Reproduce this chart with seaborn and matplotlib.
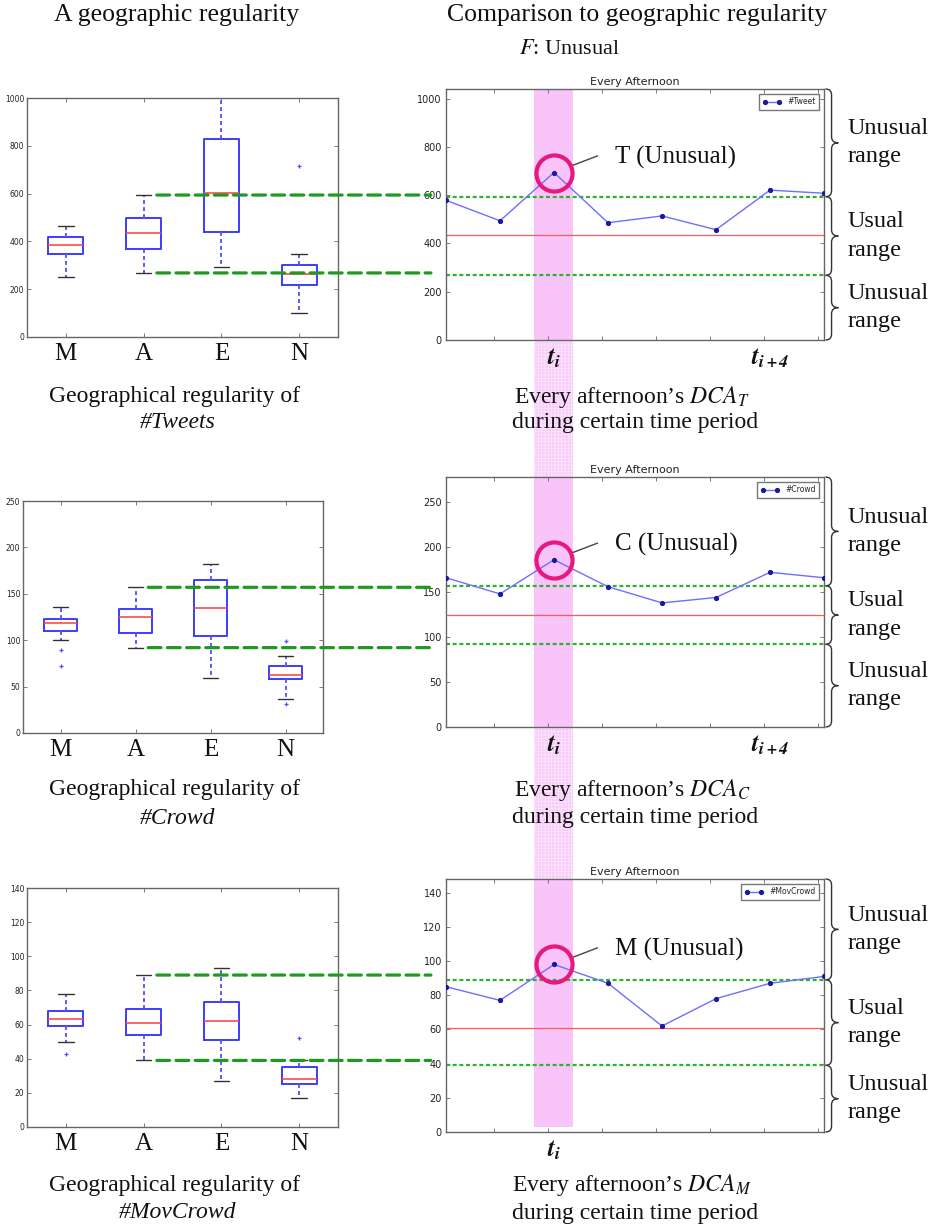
import numpy as np
import matplotlib
matplotlib.use('Agg')
import matplotlib.pyplot as plt
import seaborn as sns
from matplotlib.path import Path
from matplotlib.patches import PathPatch, Rectangle, ConnectionPatch
from matplotlib.transforms import blended_transform_factory as blend

# ---- data ----
regions = ['M', 'A', 'E', 'N']
times = list(range(8))          # eight afternoons, t_i is index 2
peak_idx = 2

# box stats per region: [whisker low, q1, median, q3, whisker high]
tweet_box = [[250, 347, 385, 418, 464], [268, 368, 434, 496, 594],
             [292, 440, 604, 828, 1020], [100, 216, 262, 303, 346]]
tweet_fliers = [[], [], [], [717]]
crowd_box = [[100, 110, 118, 123, 136], [92, 108, 125, 134, 157],
             [59, 104, 135, 165, 182], [37, 58, 63, 72, 83]]
crowd_fliers = [[89, 72], [], [], [99, 31]]
mov_box = [[50, 59, 63, 68, 78], [39, 54, 61, 69, 89],
           [27, 51, 62, 73, 93], [17, 25, 28, 35, 39]]
mov_fliers = [[43], [], [], [52]]

tweet_series = [579, 494, 694, 486, 514, 457, 621, 608]
crowd_series = [166, 148, 186, 156, 138, 144, 172, 166]
mov_series = [85, 77, 98, 87, 62, 78, 87, 91]

t_labels = {2: r'$\mathbfit{t}_{\mathbfit{i}}$', 6: r'$\mathbfit{t}_{\mathbfit{i+4}}$'}

rows = [
    dict(box=tweet_box, fliers=tweet_fliers, series=tweet_series, legend='#Tweet',
         name='#Tweets', sub='T', letter='T', box_top=1000, box_step=200,
         line_top=1040, line_step=200, tl=[2, 6]),
    dict(box=crowd_box, fliers=crowd_fliers, series=crowd_series, legend='#Crowd',
         name='#Crowd', sub='C', letter='C', box_top=250, box_step=50,
         line_top=278, line_step=50, tl=[2, 6]),
    dict(box=mov_box, fliers=mov_fliers, series=mov_series, legend='#MovCrowd',
         name='#MovCrowd', sub='M', letter='M', box_top=140, box_step=20,
         line_top=148, line_step=20, tl=[2]),
]

# ---- layout (pixels of the 935x1229 picture) ----
W, H = 935, 1229
box_rects = [(27, 98, 338, 337), (23, 501, 323, 733), (27, 888, 338, 1127)]
line_rects = [(446, 89, 824, 340), (446, 477, 824, 727), (446, 879, 824, 1132)]
caption_y = [(397, 423), (790, 818), (1185, 1213)]
band = (1.63, 2.35)

SERIF = ['Liberation Serif', 'DejaVu Serif']
PINK = '#f9c4f9'
GREEN_DASH = '#1f9a1f'
GREEN_DOT = '#2db32d'

sns.set_theme(style='white')
plt.rcParams['font.family'] = ['DejaVu Sans']
plt.rcParams['mathtext.fontset'] = 'stix'
plt.rcParams['hatch.linewidth'] = 0.5
plt.rcParams['axes.edgecolor'] = '#666666'
plt.rcParams['axes.linewidth'] = 1.0


def px_rect(x0, y0, x1, y1):
    return [x0 / W, 1 - y1 / H, (x1 - x0) / W, (y1 - y0) / H]


def draw_brace(ax, ya, yb, r_px=6):
    trans = blend(ax.transAxes, ax.transData)
    lo, hi = ax.get_ylim()
    r = r_px * (hi - lo) / ax.bbox.height
    top, bot = max(ya, yb), min(ya, yb)
    mid = (top + bot) / 2
    x0, x1, x2 = 1.004, 1.020, 1.038
    verts = [(x0, top), (x1, top), (x1, top - r),
             (x1, mid + r), (x1, mid), (x2, mid),
             (x1, mid), (x1, mid - r),
             (x1, bot + r), (x1, bot), (x0, bot)]
    codes = [Path.MOVETO, Path.CURVE3, Path.CURVE3, Path.LINETO, Path.CURVE3, Path.CURVE3,
             Path.CURVE3, Path.CURVE3, Path.LINETO, Path.CURVE3, Path.CURVE3]
    ax.add_patch(PathPatch(Path(verts, codes), transform=trans, fill=False,
                           edgecolor='#333333', lw=1.0, clip_on=False))


fig = plt.figure(figsize=(W / 100, H / 100), dpi=100)

line_axes = []
for i, row in enumerate(rows):
    # ---------- left: box plot ----------
    axb = fig.add_axes(px_rect(*box_rects[i]))
    stats = [dict(whislo=b[0], q1=b[1], med=b[2], q3=b[3], whishi=b[4], fliers=f, label=r)
             for b, f, r in zip(row['box'], row['fliers'], regions)]
    axb.bxp(stats, positions=[1, 2, 3, 4], widths=0.45, capwidths=0.2,
            boxprops=dict(color='#3c3cff', lw=1.4),
            whiskerprops=dict(color='#5a5aff', lw=1.4, ls=(0, (2, 1.6))),
            capprops=dict(color='#333333', lw=1.0),
            medianprops=dict(color='#ff4a4a', lw=1.2),
            flierprops=dict(marker='+', markeredgecolor='#5050ff', ms=3.5, mew=0.9))
    axb.set_xlim(0.5, 4.5)
    axb.set_ylim(0, row['box_top'])
    axb.set_yticks(np.arange(0, row['box_top'] + 1, row['box_step']))
    axb.set_xticks([1, 2, 3, 4])
    axb.set_xticklabels(regions, fontfamily=SERIF, fontsize=18)
    axb.tick_params(direction='in', top=True, right=True, bottom=True, left=True,
                    length=3, width=0.6, colors='#666666')
    axb.tick_params(axis='y', labelsize=5.5, pad=2, labelcolor='#222222')
    axb.tick_params(axis='x', pad=4, labelcolor='#111111')

    # ---------- right: afternoon series ----------
    ax = fig.add_axes(px_rect(*line_rects[i]))
    line_axes.append(ax)
    ser = row['series']
    a_low, a_med, a_high = row['box'][1][0], row['box'][1][2], row['box'][1][4]
    ax.set_xlim(0, 7)
    ax.set_ylim(0, row['line_top'])
    ymin_band = 3 / row['line_top'] if i == 2 else 0
    ax.axvspan(band[0], band[1], ymin=ymin_band, color=PINK, lw=0, zorder=0)
    ax.axhline(a_med, color='#ff5a5a', lw=0.9, zorder=1)
    for v in (a_high, a_low):
        ax.axhline(v, color=GREEN_DOT, lw=1.6, ls=(0, (1.8, 1.2)), zorder=2)
    sns.lineplot(x=times, y=ser, ax=ax, color='#6e6eff', lw=1.0, marker='o', markersize=3,
                 markerfacecolor='#1a1a9a', markeredgecolor='#1a1a9a', label=row['legend'],
                 zorder=3)
    ax.legend(loc='upper right', fontsize=5.5, numpoints=2, frameon=True, fancybox=False,
              edgecolor='#777777', framealpha=1, handlelength=2.4, borderpad=0.5,
              borderaxespad=0.6)
    ax.plot([times[peak_idx]], [ser[peak_idx]], marker='o', ms=26, mfc='none',
            mec='#e8197c', mew=3, zorder=5, clip_on=False)
    ax.annotate(f"{row['letter']} (Unusual)", xy=(times[peak_idx], ser[peak_idx]),
                xytext=(44, 11), textcoords='offset points', ha='left', va='center',
                fontsize=18, family=SERIF, color='#111111',
                arrowprops=dict(arrowstyle='-', color='#444444', lw=1.0,
                                shrinkA=11, shrinkB=13, relpos=(0, 0.85)))
    ax.set_title('Every Afternoon', fontsize=8, pad=3, color='#222222')
    ax.set_yticks(np.arange(0, row['line_top'], row['line_step']))
    ax.set_xticks(np.arange(1, 8) - 0.12)
    ax.set_xticklabels([])
    ax.set_xlabel('')
    ax.set_ylabel('')
    ax.tick_params(direction='in', top=True, right=True, bottom=True, left=True,
                   length=3, width=0.6, colors='#666666')
    ax.tick_params(axis='y', labelsize=7, pad=3, labelcolor='#222222')
    for k in row['tl']:
        ax.text(times[k], -0.072, t_labels[k], transform=blend(ax.transData, ax.transAxes),
                ha='center', va='center', fontsize=18, color='#111111')

    # braces and range names
    ranges = [(row['line_top'], a_high), (a_high, a_low), (a_low, 0)]
    names = ['Unusual\nrange', 'Usual\nrange', 'Unusual\nrange']
    for (ya, yb), nm in zip(ranges, names):
        draw_brace(ax, ya, yb)
        ax.text(1.063, (ya + yb) / 2, nm, transform=blend(ax.transAxes, ax.transData),
                ha='left', va='center', fontsize=17.5, family=SERIF, linespacing=1.45,
                color='#111111')

    # thick dashed connectors from the A whiskers to the right chart
    tB = blend(ax.transAxes, axb.transData)
    for v in (a_high, a_low):
        con = ConnectionPatch(xyA=(2.17, v), coordsA=axb.transData, xyB=(-0.04, v),
                              coordsB=tB, color=GREEN_DASH, lw=2.3, ls=(0, (4, 2)),
                              zorder=6)
        fig.add_artist(con)

    # captions
    y1, y2 = caption_y[i]
    fig.text(0.187, 1 - y1 / H, 'Geographical regularity of', ha='center', va='center',
             fontsize=17, family=SERIF, color='#111111')
    fig.text(0.190, 1 - y2 / H, row['name'], ha='center', va='center', fontsize=17,
             family=SERIF, style='italic', color='#111111')
    fig.text(0.676, 1 - y1 / H,
             'Every afternoon\u2019s $\\mathit{DCA}_{\\mathit{' + row['sub'] + '}}$',
             ha='center', va='center', fontsize=17, family=SERIF, color='#111111', zorder=4)
    fig.text(0.679, 1 - y2 / H, 'during certain time period', ha='center', va='center',
             fontsize=17, family=SERIF, color='#111111', zorder=4)

# pink band running through all three right charts (lighter grid between them)
fx0 = line_axes[0].transData.transform((band[0], 0))[0] / fig.bbox.width
fx1 = line_axes[0].transData.transform((band[1], 0))[0] / fig.bbox.width
fy_top = line_axes[0].bbox.y1 / fig.bbox.height
fy_bot = line_axes[2].transData.transform((0, 3))[1] / fig.bbox.height
fig.add_artist(Rectangle((fx0, fy_bot), fx1 - fx0, fy_top - fy_bot, transform=fig.transFigure,
                         facecolor='#f9cdf9', edgecolor='#fde6fd', hatch='+++++', lw=0,
                         zorder=-1))

# headers
fig.text(0.189, 1 - 15 / H, 'A geographic regularity', ha='center', va='center',
         fontsize=18.5, family=SERIF, color='#111111')
fig.text(0.681, 1 - 15 / H, 'Comparison to geographic regularity', ha='center', va='center',
         fontsize=18.5, family=SERIF, color='#111111')
fig.text(0.609, 1 - 50 / H, '$F$: Unusual', ha='center', va='center', fontsize=16,
         family=SERIF, color='#111111')

fig.savefig('out.png', dpi=100)
